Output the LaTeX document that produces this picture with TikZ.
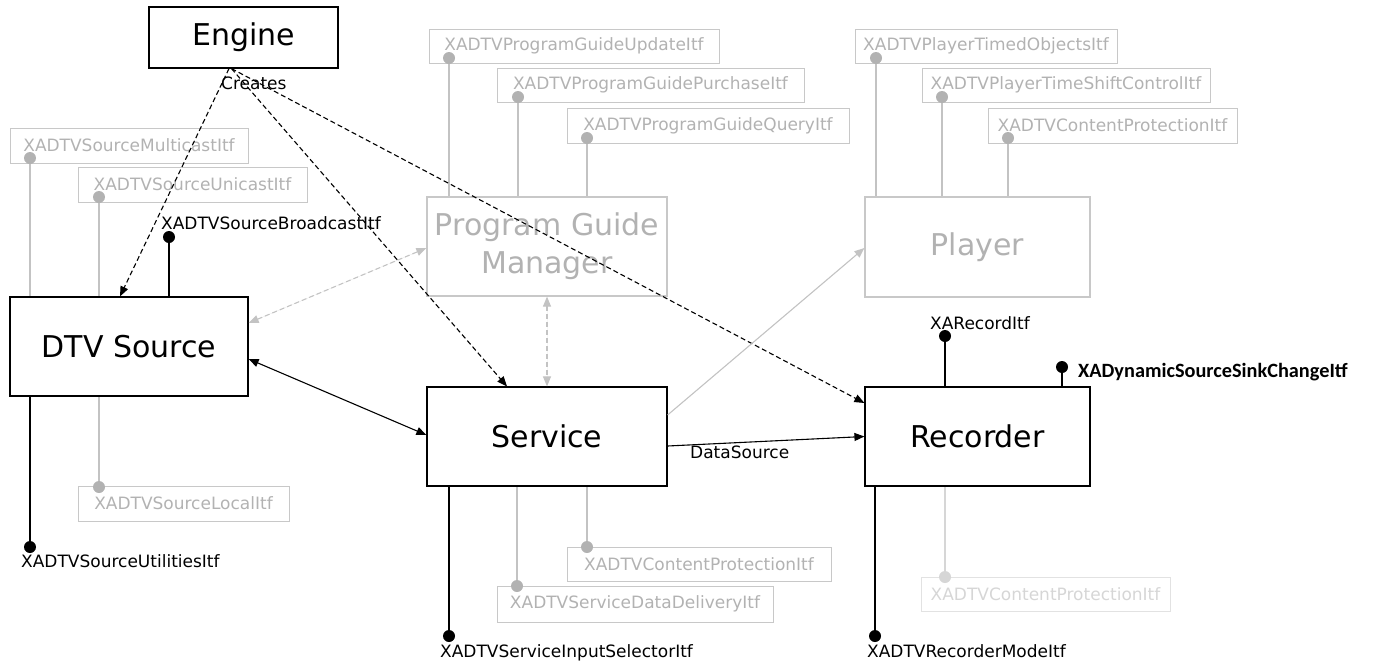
\documentclass[tikz,border=0pt]{standalone}
\usepackage{fontspec}
\setmainfont{DejaVu Sans}
\newfontfamily\calfont{Carlito}
\usetikzlibrary{arrows.meta,calc}
\definecolor{boxgray}{RGB}{200,200,200}
\definecolor{txtgray}{RGB}{178,178,178}
\definecolor{dotgray}{RGB}{178,178,178}
\definecolor{linegray}{RGB}{195,195,195}
\definecolor{pale}{RGB}{226,226,226}
\definecolor{paletxt}{RGB}{214,214,214}
\tikzset{
  comp/.style={draw=black, line width=1.2pt, inner sep=0pt, font=\fontsize{30}{38}\selectfont, align=center, minimum height=99pt},
  compg/.style={comp, draw=boxgray, text=txtgray},
  itf/.style={draw=boxgray, line width=1pt, text=txtgray, inner sep=0pt, font=\fontsize{17}{19}\selectfont, minimum height=35pt},
  gdot/.style={circle, fill=dotgray, inner sep=0pt, minimum size=12pt},
  bdot/.style={circle, fill=black, inner sep=0pt, minimum size=12pt},
  gline/.style={draw=linegray, line width=1.2pt},
  bline/.style={draw=black, line width=1.2pt},
  lbl/.style={inner sep=0pt, font=\fontsize{17}{19}\selectfont},
  tip/.style={-{Triangle[length=10pt,width=8pt]}},
  btip/.style={{Triangle[length=10pt,width=8pt]}-{Triangle[length=10pt,width=8pt]}},
  dsh/.style={dash pattern=on 5pt off 3pt},
}
\begin{document}
\begin{tikzpicture}[x=1pt,y=-1pt]
\useasboundingbox (0,0) rectangle (1393,662);
% components
\node[comp, minimum width=189pt, minimum height=61pt] (eng) at (243.5,37.5) {Engine};
\node[comp, minimum width=238pt] (dtv) at (129,346.5) {DTV Source};
\node[comp, minimum width=240pt] (svc) at (547,436.5) {Service};
\node[comp, minimum width=225pt] (rec) at (977.5,436.5) {Recorder};
\node[compg, minimum width=240pt] (pgm) at (547,246.5) {Program Guide\\Manager};
\node[compg, minimum width=225pt, minimum height=100pt] (ply) at (977.5,247) {Player};
% interface boxes
\node[itf, minimum width=238pt] (i1) at (129,145.5) {XADTVSourceMulticastItf};
\node[itf, minimum width=229pt] (i2) at (192.5,184.5) {XADTVSourceUnicastItf};
\node[itf, minimum width=290pt, minimum height=34pt] (i3) at (574,46) {XADTVProgramGuideUpdateItf};
\node[itf, minimum width=307pt, minimum height=34pt] (i4) at (650.5,85) {XADTVProgramGuidePurchaseItf};
\node[itf, minimum width=282pt] (i5) at (708,125.5) {XADTVProgramGuideQueryItf};
\node[itf, minimum width=262pt, minimum height=34pt] (i6) at (986,46) {XADTVPlayerTimedObjectsItf};
\node[itf, minimum width=288pt, minimum height=34pt] (i7) at (1066,85) {XADTVPlayerTimeShiftControlItf};
\node[itf, minimum width=249pt] (i8) at (1112.5,125.5) {XADTVContentProtectionItf};
\node[itf, minimum width=211pt] (i9) at (183.5,503.5) {XADTVSourceLocalItf};
\node[itf, minimum width=264pt, minimum height=34pt] (i10) at (699,564) {XADTVContentProtectionItf};
\node[itf, minimum width=276pt, minimum height=36pt] (i11) at (635,604) {XADTVServiceDataDeliveryItf};
\node[itf, minimum width=249pt, minimum height=34pt, draw=pale, text=paletxt] (i12) at (1045.5,594) {XADTVContentProtectionItf};
% gray port dots
\node[gdot] (g1) at (30,158) {};
\node[gdot] (g2) at (99,197) {};
\node[gdot] (g3) at (449,58) {};
\node[gdot] (g4) at (518,97) {};
\node[gdot] (g5) at (587,138) {};
\node[gdot] (g6) at (876,58) {};
\node[gdot] (g7) at (942,97) {};
\node[gdot] (g8) at (1008,138) {};
\node[gdot] (g9) at (99,487) {};
\node[gdot] (g10) at (587,547) {};
\node[gdot] (g11) at (517,586) {};
\node[gdot, fill=paletxt] (g12) at (945,577) {};
\draw[gline] (g1) -- (g1 |- dtv.north);
\draw[gline] (g2) -- (g2 |- dtv.north);
\draw[gline] (g3) -- (g3 |- pgm.north);
\draw[gline] (g4) -- (g4 |- pgm.north);
\draw[gline] (g5) -- (g5 |- pgm.north);
\draw[gline] (g6) -- (g6 |- ply.north);
\draw[gline] (g7) -- (g7 |- ply.north);
\draw[gline] (g8) -- (g8 |- ply.north);
\draw[gline] (g9) -- (g9 |- dtv.south);
\draw[gline] (g10) -- (g10 |- svc.south);
\draw[gline] (g11) -- (g11 |- svc.south);
\draw[gline, draw=paletxt] (g12) -- (g12 |- rec.south);
% black ports
\node[bdot] (b1) at (169,237) {};
\node[bdot] (b2) at (30,547) {};
\node[bdot] (b3) at (449,636) {};
\node[bdot] (b4) at (875,636) {};
\node[bdot] (b5) at (945,336) {};
\node[bdot] (b6) at (1062,367) {};
\draw[bline] (b1) -- (b1 |- dtv.north);
\draw[bline] (b2) -- (b2 |- dtv.south);
\draw[bline] (b3) -- (b3 |- svc.south);
\draw[bline] (b4) -- (b4 |- rec.south);
\draw[bline] (b5) -- (b5 |- rec.north);
\draw[bline] (b6) -- (b6 |- rec.north);
\node[lbl, anchor=base west] (l1) at (161,229) {XADTVSourceBroadcastItf};
\node[lbl, anchor=base west] (l2) at (21,567) {XADTVSourceUtilitiesItf};
\node[lbl, anchor=base west] (l3) at (440,657) {XADTVServiceInputSelectorItf};
\node[lbl, anchor=base west] (l4) at (867,657) {XADTVRecorderModeItf};
\node[lbl, anchor=base] (l5) at (980,329) {XARecordItf};
\node[inner sep=0pt, anchor=base west, font=\calfont\bfseries\fontsize{20.3}{22}\selectfont] (l6) at (1078,377) {XADynamicSourceSinkChangeItf};
% connectors
\draw[bline, line width=1.1pt, dsh, tip] ([xshift=-14.5pt]eng.south) -- ([xshift=-9pt]dtv.north);
\draw[bline, line width=1.1pt, dsh, tip] ([xshift=-12pt]eng.south) -- ([xshift=-40pt]svc.north);
\draw[bline, line width=1.1pt, dsh, tip] ([xshift=-12pt]eng.south) -- ([yshift=33.5pt]rec.west);
\node[lbl, anchor=base west] (cr) at (221,89) {Creates};
\draw[bline, line width=1.1pt, btip] ([yshift=-12.5pt]dtv.east) -- ([yshift=1.5pt]svc.west);
\draw[gline, line width=1.1pt, dsh, btip, fill=linegray] ([yshift=23.5pt]dtv.east) -- ([yshift=-1.5pt]pgm.west);
\draw[gline, line width=1.1pt, dsh, btip, fill=linegray] (pgm.south) -- (svc.north);
\draw[gline, line width=1.1pt, tip, fill=linegray] ([yshift=21.5pt]svc.east) -- ([yshift=-1pt]ply.west);
\draw[bline, line width=1.1pt, tip] ([yshift=-9.5pt]svc.east) -- (rec.west);
\node[lbl, anchor=base west] (ds) at (690,458) {DataSource};
\end{tikzpicture}
\end{document}
